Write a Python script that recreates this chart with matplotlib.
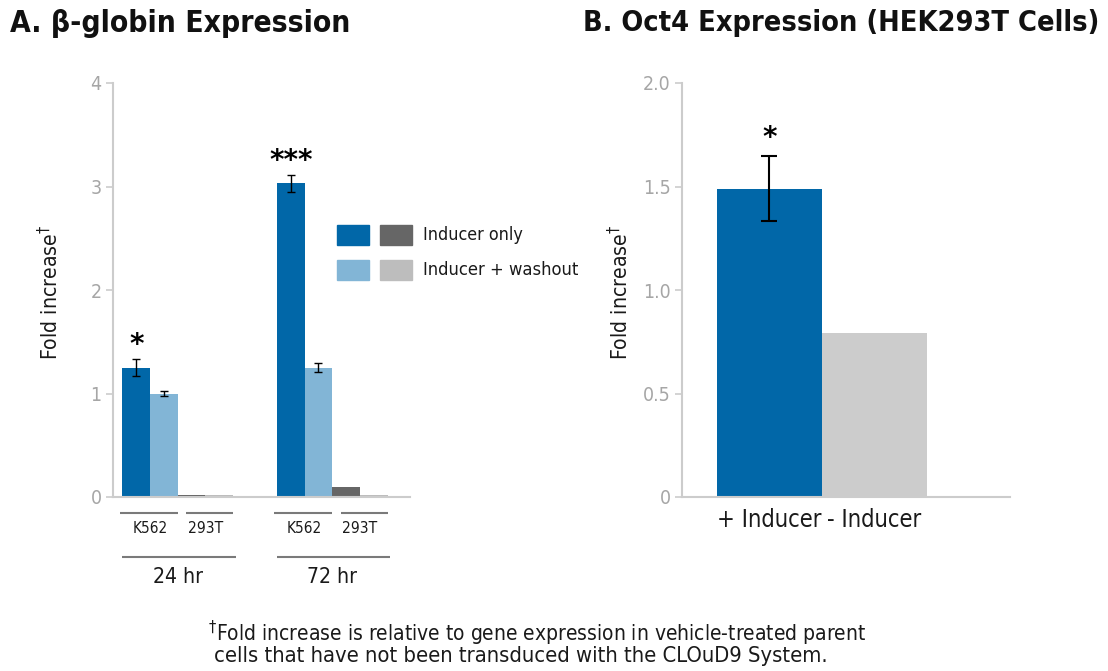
import matplotlib
matplotlib.use("Agg")
import matplotlib.pyplot as plt
from matplotlib.patches import Rectangle
from matplotlib import font_manager as fm

# ---------------- data ----------------
times = ["24 hr", "72 hr"]
cells = ["K562", "293T"]
# order: 24h K562, 24h 293T, 72h K562, 72h 293T
inducer_only = [1.25, 0.02, 3.03, 0.10]
inducer_only_err = [0.08, 0.0, 0.08, 0.0]
washout = [1.00, 0.015, 1.25, 0.015]
washout_err = [0.02, 0.0, 0.04, 0.0]
signif_a = ["*", "", "***", ""]

conditions = ["+ Inducer", "- Inducer"]
oct4 = [1.49, 0.79]
oct4_err = [0.155, 0.0]
signif_b = ["*", ""]

legend_labels = ["Inducer only", "Inducer + washout"]
yticks_a = [0, 1, 2, 3, 4]
yticks_b = [0, 0.5, 1.0, 1.5, 2.0]
yticklabels_b = ["0", "0.5", "1.0", "1.5", "2.0"]

# ---------------- fonts ----------------
def find_font(bold):
    cands = []
    for f in fm.fontManager.ttflist:
        nm = (f.fname + " " + f.name).lower()
        stretch = str(f.stretch).lower()
        is_cond = ("condensed" in nm or "narrow" in nm or "condensed" in stretch)
        if not is_cond:
            continue
        w = f.weight if isinstance(f.weight, int) else (700 if "bold" in str(f.weight) else 400)
        isbold = w >= 600 or "bold" in nm
        if "italic" in nm or "oblique" in nm or f.style != "normal":
            continue
        if any(k in nm for k in ["semi", "light", "extra", "black", "thin", "medium"]):
            continue
        if isbold == bold:
            cands.append(f)
    if not cands:
        return None
    pref = ["dejavu", "liberation", "roboto", "open", "noto", "lato"]
    cands.sort(key=lambda f: next((i for i, p in enumerate(pref) if p in f.fname.lower()), 99))
    return cands[0].fname


reg_path = find_font(False)
bold_path = find_font(True)
if reg_path:
    FP = lambda: fm.FontProperties(fname=reg_path)
else:
    FP = lambda: fm.FontProperties(family=["DejaVu Sans"])
if bold_path:
    FPB = lambda: fm.FontProperties(fname=bold_path)
else:
    FPB = lambda: fm.FontProperties(family=["DejaVu Sans"], weight="bold")

plt.rcParams["font.family"] = ["DejaVu Sans"]
plt.rcParams["mathtext.fontset"] = "dejavusans"

BLUE = "#0167a8"
LBLUE = "#82b5d6"
DGREY = "#666666"
LGREY = "#bdbdbd"
BGREY = "#cccccc"
SPINE = "#cccccc"
TICK = "#a6a6a6"
TXT = "#1a1a1a"

fig = plt.figure(figsize=(11.08, 6.71), dpi=100)
W, H = 1108, 671
renderer = fig.canvas.get_renderer()


def fit(t, target_w):
    t.set_fontsize(20)
    w = t.get_window_extent(renderer).width
    t.set_fontsize(20 * target_w / w)
    return t


def ax_rect(x0, x1, ytop, ybot):
    return [x0 / W, 1 - ybot / H, (x1 - x0) / W, (ybot - ytop) / H]


def style_axis(ax):
    for s in ["top", "right"]:
        ax.spines[s].set_visible(False)
    for s in ["left", "bottom"]:
        ax.spines[s].set_color(SPINE)
        ax.spines[s].set_linewidth(1.5)
    ax.tick_params(axis="y", colors=SPINE, labelcolor=TICK,
                   length=5, width=1.2, pad=3)
    ax.tick_params(axis="x", length=0)


# ---------------- Panel A ----------------
axA = fig.add_axes(ax_rect(112.7, 410, 83, 497))
style_axis(axA)
bw = 1.0
group_offsets = [0.0, 5.59]
ekw = dict(ecolor="black", elinewidth=1, capsize=3, capthick=1)
for gi, off in enumerate(group_offsets):
    for ci in range(2):
        idx = gi * 2 + ci
        base = off + ci * 2 * bw
        c1 = BLUE if ci == 0 else DGREY
        c2 = LBLUE if ci == 0 else LGREY
        axA.bar(base + 0.5, inducer_only[idx], width=bw, color=c1,
                yerr=inducer_only_err[idx] if inducer_only_err[idx] else None, error_kw=ekw)
        axA.bar(base + 1.5, washout[idx], width=bw, color=c2,
                yerr=washout_err[idx] if washout_err[idx] else None, error_kw=ekw)
        if signif_a[idx]:
            axA.annotate(signif_a[idx], xy=(base + 0.5, inducer_only[idx] + inducer_only_err[idx]),
                         xytext=(0, 0), textcoords="offset points", ha="center", va="bottom",
                         fontsize=20, fontweight="bold", family=["DejaVu Sans"])
axA.set_xlim(-0.35, 10.4)
axA.set_ylim(0, 4)
axA.set_yticks(yticks_a)
axA.set_yticklabels([str(v) for v in yticks_a], fontproperties=FP(), fontsize=14)
axA.set_xticks([])

# group annotations (cells and time points) below axis
trans = axA.get_xaxis_transform()
for gi, off in enumerate(group_offsets):
    for ci, cell in enumerate(cells):
        x0 = off + ci * 2 * bw
        xa = x0 - (0.1 if ci == 0 else -0.3)
        axA.plot([xa, x0 + 2 * bw], [-0.038, -0.038], transform=trans, color="#7a7a7a",
                 lw=1.5, clip_on=False, solid_capstyle="butt")
        t = axA.text(x0 + bw, -0.075, cell, transform=trans, ha="center", va="center",
                     fontproperties=FP(), color=TXT)
        fit(t, 35)
    axA.plot([off, off + 4 * bw + 0.1], [-0.145, -0.145], transform=trans, color="#7a7a7a",
             lw=1.5, clip_on=False, solid_capstyle="butt")
    t = axA.text(off + 2 * bw, -0.193, times[gi], transform=trans, ha="center", va="center",
                 fontproperties=FP(), color=TXT)
    fit(t, 50)

# legend drawn manually in figure pixels
leg_rows = [(225, BLUE, DGREY), (260, LBLUE, LGREY)]
for (ytop, ca, cb), lab, tw in zip(leg_rows, legend_labels, [100, 155]):
    for x0, col in [(336.7, ca), (380, cb)]:
        fig.patches.append(Rectangle((x0 / W, 1 - (ytop + 20) / H), 32 / W, 20 / H,
                                     transform=fig.transFigure, color=col))
    t = fig.text(423 / W, 1 - (ytop + 10) / H, lab, ha="left", va="center",
                 fontproperties=FP(), color=TXT)
    fit(t, tw)

# ---------------- Panel B ----------------
axB = fig.add_axes(ax_rect(682, 1010, 83, 497))
style_axis(axB)
colsB = [BLUE, BGREY]
for i, (v, e) in enumerate(zip(oct4, oct4_err)):
    axB.bar(i + 0.5, v, width=1.0, color=colsB[i],
            yerr=e if e else None,
            error_kw=dict(ecolor="black", elinewidth=1.5, capsize=6, capthick=1.5))
    if signif_b[i]:
        axB.annotate(signif_b[i], xy=(i + 0.5, v + e), xytext=(0, 3),
                     textcoords="offset points", ha="center", va="bottom",
                     fontsize=20, fontweight="bold", family=["DejaVu Sans"])
axB.set_xlim(-0.33, 2.79)
axB.set_ylim(0, 2.0)
axB.set_yticks(yticks_b)
axB.set_yticklabels(yticklabels_b, fontproperties=FP(), fontsize=14)
axB.set_xticks([0.5, 1.5])
axB.set_xticklabels(conditions, fontproperties=FP(), fontsize=17, color=TXT)
axB.tick_params(axis="x", pad=8)

# y labels
for ax, xpix in [(axA, 50), (axB, 620)]:
    t = fig.text(xpix / W, 1 - 292 / H, "Fold increase$^{\\dagger}$", rotation=90,
                 ha="center", va="center", fontproperties=FP(), color=TXT)
    t.set_fontsize(20)
    h = t.get_window_extent(renderer).height
    t.set_fontsize(20 * 135 / h)

# ---------------- titles & footnote ----------------
t = fig.text(10 / W, 1 - 23 / H, "A. β-globin Expression", ha="left", va="center",
             fontproperties=FPB(), color="#111111")
fit(t, 340)
t = fig.text(583 / W, 1 - 23 / H, "B. Oct4 Expression (HEK293T Cells)", ha="left", va="center",
             fontproperties=FPB(), color="#111111")
fit(t, 515)
t = fig.text(208 / W, 1 - 633 / H,
             "$^{\\dagger}$Fold increase is relative to gene expression in vehicle-treated parent",
             ha="left", va="center", fontproperties=FP(), color=TXT)
fit(t, 656)
t = fig.text(214 / W, 1 - 656 / H,
             "cells that have not been transduced with the CLOuD9 System.",
             ha="left", va="center", fontproperties=FP(), color=TXT)
fit(t, 615)

fig.savefig("out.png", dpi=100)
